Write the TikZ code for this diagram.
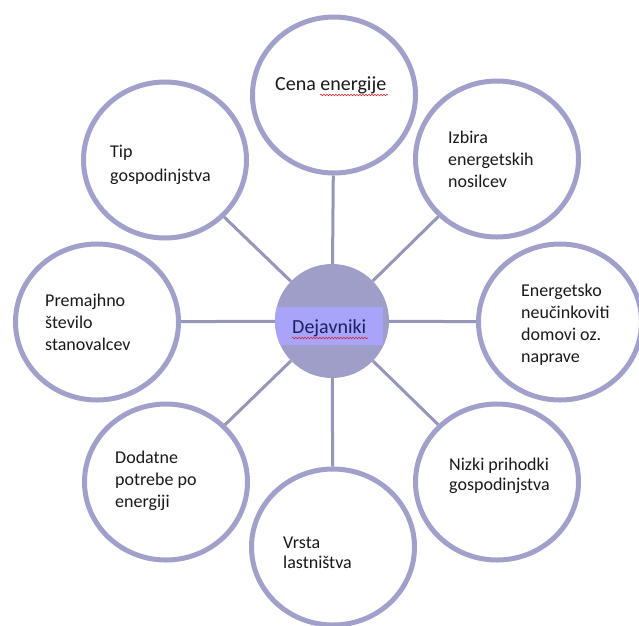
\documentclass[tikz,border=0pt]{standalone}
\usepackage{fontspec}
\setmainfont{Carlito}
\usetikzlibrary{shapes.geometric,decorations.pathmorphing}
\definecolor{ring}{RGB}{160,160,202}
\definecolor{conn}{RGB}{150,150,185}
\definecolor{hubfill}{RGB}{158,158,200}
\definecolor{band}{RGB}{168,164,250}
\definecolor{txt}{RGB}{25,25,25}
\definecolor{hubtxt}{RGB}{30,30,100}
\definecolor{squig}{RGB}{215,40,50}
\pgfdeclarelayer{bg}
\pgfsetlayers{bg,main}
\begin{document}
\begin{tikzpicture}[x=1pt,y=-1pt,
  bubble/.style={ellipse, draw=ring, line width=5pt, fill=white, minimum width=163pt, minimum height=156pt, inner sep=0pt},
  link/.style={draw=conn, line width=3pt},
  lbl/.style={anchor=base west, align=left, inner sep=0pt, text=txt, font=\fontsize{18}{22}\selectfont},
  squiggle/.style={draw=squig, line width=0.6pt, decorate, decoration={snake, amplitude=0.8pt, segment length=3pt}}]
\useasboundingbox (0,0) rectangle (639,625);
% hub
\node[circle, fill=hubfill, minimum size=114pt, inner sep=0pt] (hub) at (332,321) {};
\begin{scope}
  \clip (hub.center) circle (57pt);
  \fill[band] (270,307) rectangle (383,345);
\end{scope}
% outer bubbles
\node[bubble] (cena) at (334,95) {};
\node[bubble] (tip) at (165,160) {};
\node[bubble] (izbira) at (497,159) {};
\node[bubble] (prem) at (97,322) {};
\node[bubble] (energ) at (560,322) {};
\node[bubble] (dod) at (166,482) {};
\node[bubble] (vrsta) at (333,547) {};
\node[bubble] (nizki) at (497,482) {};
% background and connectors
\begin{pgfonlayer}{bg}
\fill[white] (0,0) rectangle (639,625);
\foreach \n in {cena,tip,izbira,prem,energ,dod,vrsta,nizki}
  \draw[link] (hub) -- (\n);
\end{pgfonlayer}
% texts (anchored at the baseline of their last line)
\node[lbl, font=\fontsize{20}{24}\selectfont] (tcena) at (275,90) {Cena energije};
\node[lbl, font=\fontsize{18}{24}\selectfont] (ttip) at (110,181) {Tip\\gospodinjstva};
\node[lbl] (tprem) at (45,350) {Premajhno\\število\\stanovalcev};
\node[lbl] (tizbira) at (448,187) {Izbira\\energetskih\\nosilcev};
\node[lbl] (tenerg) at (521,362) {Energetsko\\neučinkoviti\\domovi oz.\\naprave};
\node[lbl] (tdod) at (115,507) {Dodatne\\potrebe po\\energiji};
\node[lbl, font=\fontsize{18}{20}\selectfont] (tvrsta) at (283,568) {Vrsta\\lastništva};
\node[lbl, font=\fontsize{18}{20}\selectfont] (tnizki) at (449,490) {Nizki prihodki\\gospodinjstva};
\node[lbl, font=\fontsize{20}{24}\selectfont, text=hubtxt] (thub) at (292,333) {Dejavniki};
% spell-check squiggles
\draw[squiggle] (320,95) -- (388,95);
\draw[squiggle] (292,338) -- (368,338);
\end{tikzpicture}
\end{document}
